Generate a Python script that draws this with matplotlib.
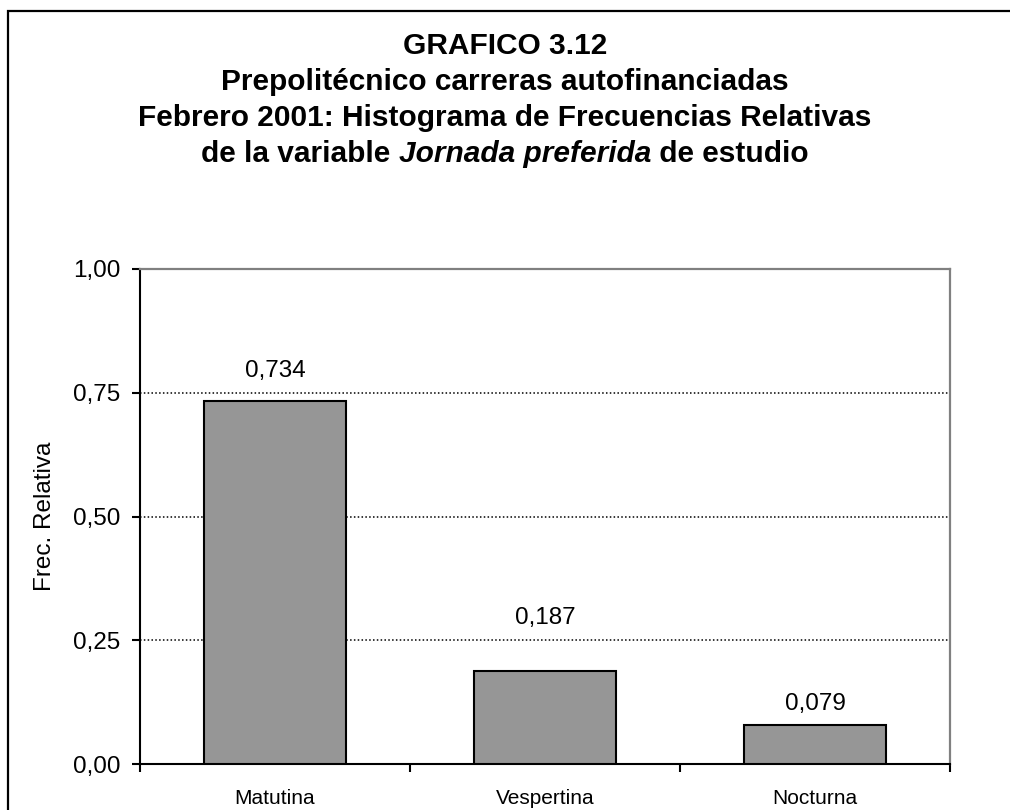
import numpy as np
import matplotlib
matplotlib.use('Agg')
import matplotlib.pyplot as plt
from matplotlib.ticker import FuncFormatter, FixedLocator
from matplotlib.patches import Rectangle

plt.rcParams['font.family'] = ['Liberation Sans', 'DejaVu Sans']

# datos
jornadas = ['Matutina', 'Vespertina', 'Nocturna']
frec_rel = [0.734, 0.187, 0.079]
etiquetas = ['0,734', '0,187', '0,079']
titulo = ['GRAFICO 3.12',
          'Prepolitécnico carreras autofinanciadas',
          'Febrero 2001: Histograma de Frecuencias Relativas']
titulo_ult = ['de la variable ', 'Jornada preferida', ' de estudio']

fig = plt.figure(figsize=(10.1, 8.1), dpi=100)
W, H = 1010, 810

# marco exterior (recortado abajo y a la derecha)
fig.patches.append(Rectangle((8 / W, -0.2), 1.2, 1.2 - 11 / H, transform=fig.transFigure,
                             fill=False, edgecolor='black', linewidth=1.6))

ax = fig.add_axes([140 / W, 1 - 764 / H, 810 / W, 495 / H])
x = np.arange(len(jornadas))
ax.bar(x, frec_rel, width=0.527, color='#969696', edgecolor='black', linewidth=1.5, zorder=3)

# etiquetas de valor (desplazamiento en puntos, como en el original)
offsets = [17, 34, 11]
for xi, v, lab, off in zip(x, frec_rel, etiquetas, offsets):
    ax.annotate(lab, (xi, v), xytext=(0, off), textcoords='offset points',
                ha='center', va='baseline', fontsize=17.5)

ax.set_xlim(-0.5, len(jornadas) - 0.5)
ax.set_ylim(0, 1)
ax.set_yticks([0, 0.25, 0.5, 0.75, 1.0])
ax.yaxis.set_major_formatter(FuncFormatter(lambda v, p: f'{v:.2f}'.replace('.', ',')))
ax.tick_params(axis='y', labelsize=17.5, length=6, width=1.5, pad=8)

# ticks x en los limites de categoria, etiquetas centradas
ax.xaxis.set_major_locator(FixedLocator(np.arange(len(jornadas) + 1) - 0.5))
ax.xaxis.set_major_formatter(FuncFormatter(lambda v, p: ''))
ax.xaxis.set_minor_locator(FixedLocator(x))
ax.set_xticklabels(jornadas, minor=True)
ax.tick_params(axis='x', which='major', length=6, width=1.5)
ax.tick_params(axis='x', which='minor', length=0, labelsize=15, pad=18)

for y in [0.25, 0.5, 0.75]:
    ax.axhline(y, color='black', linestyle=(0, (1, 1.5)), linewidth=1.1, zorder=1)

for s in ['left', 'bottom']:
    ax.spines[s].set_linewidth(1.5)
    ax.spines[s].set_color('black')
for s in ['top', 'right']:
    ax.spines[s].set_linewidth(1.6)
    ax.spines[s].set_color('#808080')

ax.set_ylabel('Frec. Relativa', fontsize=17.5)
ax.yaxis.set_label_coords(-84 / 810, 0.5)

# titulo
baselines = [54, 90, 126, 162]
for line, b in zip(titulo, baselines):
    fig.text(0.5, 1 - b / H, line, ha='center', va='baseline', fontsize=21.5, fontweight='bold')

renderer = fig.canvas.get_renderer()
partes = []
for i, t in enumerate(titulo_ult):
    partes.append(fig.text(0, 1 - baselines[3] / H, t, ha='left', va='baseline', fontsize=21.5,
                           fontweight='bold', fontstyle='italic' if i == 1 else 'normal'))
anchos = [p.get_window_extent(renderer).width for p in partes]
x0 = (W - sum(anchos)) / 2
for p, w in zip(partes, anchos):
    p.set_x(x0 / W)
    x0 += w

fig.savefig('out.png', dpi=100)
